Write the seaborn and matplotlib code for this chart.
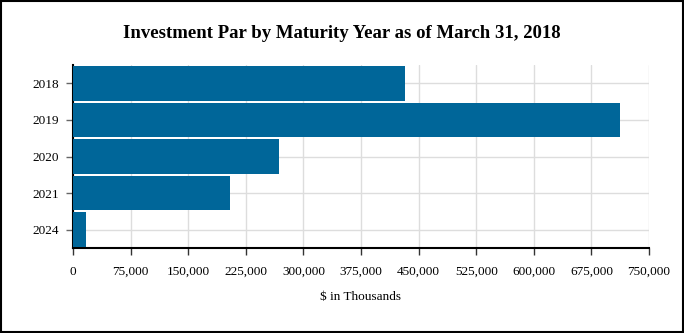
import matplotlib
matplotlib.use("Agg")
import matplotlib.pyplot as plt
import seaborn as sns
import pandas as pd
from matplotlib.ticker import FuncFormatter, MultipleLocator
from matplotlib.patches import Rectangle

years = ["2018", "2019", "2020", "2021", "2024"]
par = [432300, 712200, 268500, 204400, 16900]

df = pd.DataFrame({"year": years, "par": par})

sns.set_theme(style="white")
plt.rcParams['font.family'] = ['Liberation Serif', 'DejaVu Serif']
plt.rcParams['text.color'] = 'black'
plt.rcParams['axes.labelcolor'] = 'black'
plt.rcParams['xtick.color'] = 'black'
plt.rcParams['ytick.color'] = 'black'

fig = plt.figure(figsize=(6.84, 3.33), dpi=100)
ax = fig.add_axes([73/684, 85/333, (649-73)/684, (248-65)/333])

sns.barplot(data=df, x="par", y="year", orient="h", color="#006699",
            width=0.95, saturation=1, edgecolor="none", ax=ax, zorder=3)

ax.set_xlim(0, 750000)
ax.xaxis.set_major_locator(MultipleLocator(75000))
ax.xaxis.set_major_formatter(FuncFormatter(lambda v, p: f"{int(v):,}"))
ax.grid(True, color="#dddddd", linewidth=1, zorder=0)
ax.set_axisbelow(True)
for s in ["top", "right"]:
    ax.spines[s].set_visible(False)
ax.spines["left"].set_color("black")
ax.spines["bottom"].set_color("black")
ax.spines["left"].set_linewidth(1.5)
ax.spines["bottom"].set_linewidth(1.5)
ax.tick_params(axis="x", bottom=True, length=5, width=1, color="#333333", labelcolor="black", labelsize=9.5, pad=8)
ax.tick_params(axis="y", left=True, length=5, width=1, color="#666666", labelcolor="black", labelsize=9.5, pad=5)
ax.set_ylabel("")
ax.set_xlabel("$ in Thousands", fontsize=9.5, labelpad=9, color="black")

fig.suptitle("Investment Par by Maturity Year as of March 31, 2018",
             fontsize=13.5, fontweight="bold", y=0.925, color="black")

fig.patches.append(Rectangle((0.001, 0.002), 0.997, 0.995, transform=fig.transFigure,
                             fill=False, edgecolor="black", linewidth=1.5))

fig.savefig("out.png", dpi=100)
